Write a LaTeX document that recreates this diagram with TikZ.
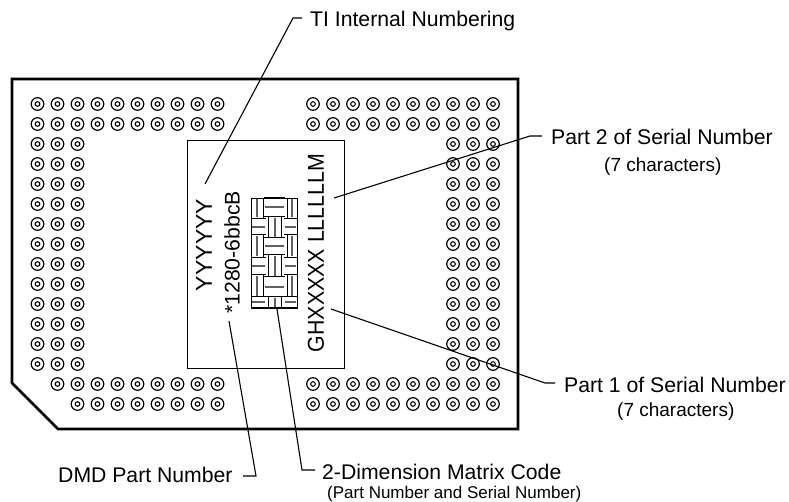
\documentclass[tikz,border=0pt]{standalone}
\usepackage{fontspec}
\setmainfont{Liberation Sans}
\begin{document}
\begin{tikzpicture}[x=1pt,y=-1pt,
  outline/.style={line width=2.8pt,line join=miter},
  thin box/.style={draw,line width=0.9pt},
  leader/.style={draw,line width=1.1pt},
  label/.style={inner sep=0pt,anchor=base west,font=\fontsize{21.2}{24}\selectfont},
  sublabel/.style={inner sep=0pt,anchor=base west,font=\fontsize{19}{22}\selectfont},
  mark text/.style={inner sep=0pt,rotate=90,font=\fontsize{21.2}{24}\selectfont},
  gbar/.style={line width=2pt,black!62},
  kbar/.style={line width=1pt,black}]
\useasboundingbox (0,0) rectangle (789,502);
\newcommand{\pad}[2]{\draw[line width=1.2pt] (#1,#2) circle (6.3pt); \draw[line width=1.1pt] (#1,#2) circle (2.3pt);}
% horizontal weave block: x1,x2,y1,y2
\newcommand{\hblock}[4]{\draw[kbar] (#1,#3) -- (#2,#3) (#1,#4) -- (#2,#4);
  \draw[gbar] ({#1+1},{(#3+#4)/2}) -- ({#2-1},{(#3+#4)/2});}
% vertical weave block: x1,x2,y1,y2
\newcommand{\vblock}[4]{\draw[kbar] (#1,#3) -- (#1,#4) (#2,#3) -- (#2,#4);
  \draw[gbar] ({(#1+#2)/2},{#3+1}) -- ({(#1+#2)/2},{#4-1});}
\draw[outline] (12,79) -- (518,79) -- (518,429) -- (58,429) -- (12,383) -- cycle;
\foreach \y in {104,124}{\foreach \x in {37.5,57.5,...,217.5}{\pad{\x}{\y}}\foreach \x in {313,333,...,493}{\pad{\x}{\y}}}
\foreach \y in {144,164,...,364}{\foreach \x in {37.5,57.5,77.5,453,473,493}{\pad{\x}{\y}}}
\foreach \x in {57.5,77.5,...,217.5}{\pad{\x}{384}}
\foreach \x in {77.5,97.5,...,217.5}{\pad{\x}{404}}
\foreach \y in {384,404}{\foreach \x in {313,333,...,493}{\pad{\x}{\y}}}
\draw[thin box] (187,140) rectangle (344,368);
\draw[thin box] (251,198) rectangle (297,308);
\foreach \a/\b in {198/218,235/257,275/297}{\vblock{251}{263}{\a}{\b}\vblock{287}{297}{\a}{\b}}
\foreach \a/\b in {219/235,258/275,297/308}{\hblock{251}{266}{\a}{\b}\hblock{284}{297}{\a}{\b}}
\foreach \a/\b in {198/217,238/255,277/297}{\hblock{264}{285}{\a}{\b}}
\foreach \a/\b in {217/238,255/277,297/308}{\vblock{268}{281}{\a}{\b}}
\draw[line width=1.3pt] (251,308) -- (297,308);
\node[mark text,font=\fontsize{23}{26}\selectfont] (yy) at (204,245) {YYYYYY};
\node[mark text] (pn) at (232,252.5) {*1280-6bbcB};
\node[mark text,font=\fontsize{23}{26}\selectfont,xscale=0.93] (sn) at (316,253) {GHXXXXX LLLLLLM};
\node[label] (ti) at (310,27) {TI Internal Numbering};
\node[label] (p2) at (551,145) {Part 2 of Serial Number};
\node[sublabel] (p2b) at (604,172) {(7 characters)};
\node[label] (p1) at (564,392) {Part 1 of Serial Number};
\node[sublabel] (p1b) at (617,416) {(7 characters)};
\node[label] (dmd) at (58,482) {DMD Part Number};
\node[label] (mx) at (322,479) {2-Dimension Matrix Code};
\node[inner sep=0pt,anchor=base west,font=\fontsize{17}{20}\selectfont] (mxb) at (327,498) {(Part Number and Serial Number)};
\coordinate (a1) at (205,184);\coordinate (a2) at (293,18);\coordinate (a3) at (302,18);
\draw[leader] (a1) -- (a2) -- (a3);
\coordinate (b1) at (334,198);\coordinate (b2) at (530,136);\coordinate (b3) at (542,136);
\draw[leader] (b1) -- (b2) -- (b3);
\coordinate (c1) at (331,309);\coordinate (c2) at (545,383);\coordinate (c3) at (555,383);
\draw[leader] (c1) -- (c2) -- (c3);
\coordinate (d1) at (229,321);\coordinate (d2) at (256,476);\coordinate (d3) at (243,476);
\draw[leader] (d1) -- (d2) -- (d3);
\coordinate (e1) at (277,309);\coordinate (e2) at (302,470);\coordinate (e3) at (315,470);
\draw[leader] (e1) -- (e2) -- (e3);
\end{tikzpicture}
\end{document}
